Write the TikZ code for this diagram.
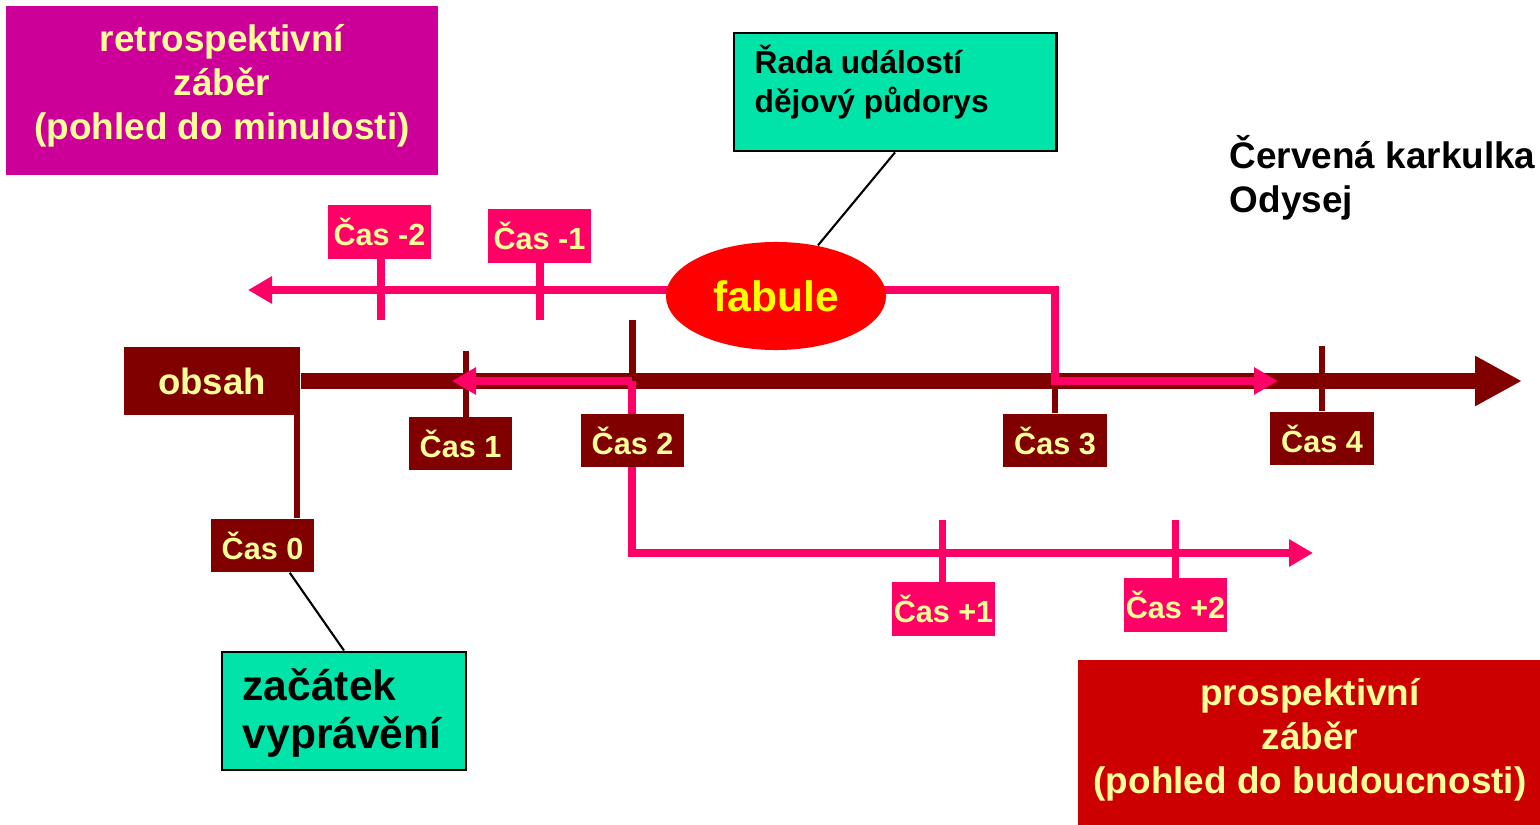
\documentclass[tikz,border=0pt]{standalone}
\usepackage{fontspec}
\setmainfont{Liberation Sans}
\usetikzlibrary{arrows.meta,shapes.geometric,backgrounds}
\definecolor{mag}{RGB}{204,0,153}
\definecolor{pinkc}{RGB}{255,0,102}
\definecolor{dred}{RGB}{128,0,0}
\definecolor{ylw}{RGB}{255,255,153}
\definecolor{brightylw}{RGB}{255,255,0}
\definecolor{grn}{RGB}{0,228,170}
\definecolor{redbox}{RGB}{204,0,0}
\definecolor{fabred}{RGB}{255,0,0}
\begin{document}
\begin{tikzpicture}[x=0.01cm,y=-0.01cm,
  casbox/.style={rectangle, inner sep=0pt, minimum width=1.03cm, minimum height=0.53cm, text=ylw, font=\fontsize{8.7}{10}\bfseries\selectfont},
  casd/.style={casbox, fill=dred},
  casp/.style={casbox, fill=pinkc},
  pinkline/.style={draw=pinkc, line width=2.2pt},
  pinktick/.style={draw=pinkc, line width=2pt},
  darktick/.style={draw=dred, line width=1.8pt},
  mainline/.style={draw=dred, line width=4.5pt, -{Triangle[length=4.7mm,width=4.7mm]}},
  pinkarrow/.style={-{Triangle[length=2.4mm,width=2.6mm]}},
  callout/.style={draw=black, line width=0.6pt},
  bigtitle/.style={text=ylw, align=center, font=\fontsize{10.5}{12.5}\bfseries\selectfont, inner sep=0pt},
  greenbox/.style={fill=grn, draw=black, line width=0.8pt, inner sep=0pt}
]
\useasboundingbox (0,0) rectangle (1540,825);

% title boxes
\node[fill=mag, minimum width=4.32cm, minimum height=1.69cm, inner sep=0pt] (retro) at (222,90.5) {};
\node[bigtitle] (retrotext) at (222,86) {retrospektivní\\záběr\\(pohled do minulosti)};
\node[fill=redbox, minimum width=4.62cm, minimum height=1.65cm, inner sep=0pt] (prosp) at (1309,742.5) {};
\node[bigtitle] (prosptext) at (1310,740) {prospektivní\\záběr\\(pohled do budoucnosti)};

% green boxes
\node[greenbox, minimum width=3.22cm, minimum height=1.18cm] (rada) at (895,92) {};
\node[anchor=west, inner sep=0pt, align=left, font=\fontsize{9}{11.1}\bfseries\selectfont] (radatext) at (754,82) {Řada událostí\\dějový půdorys};
\node[greenbox, minimum width=2.44cm, minimum height=1.18cm] (zac) at (344,711) {};
\node[anchor=west, inner sep=0pt, align=left, font=\fontsize{12.1}{13.7}\bfseries\selectfont] (zactext) at (242,713) {začátek\\vyprávění};

% story names
\node[anchor=west, inner sep=0pt, align=left, font=\fontsize{10.5}{12.5}\bfseries\selectfont] (stories) at (1229,178) {Červená karkulka\\Odysej};

% fabule
\node[ellipse, fill=fabred, minimum width=2.2cm, minimum height=1.08cm, inner sep=0pt, text=brightylw, font=\fontsize{12.1}{14}\bfseries\selectfont] (fabule) at (776,296) {fabule};

% obsah
\node[fill=dred, minimum width=1.76cm, minimum height=0.68cm, inner sep=0pt, text=ylw, font=\fontsize{10.4}{12}\bfseries\selectfont] (obsah) at (212,381) {obsah};

% time boxes
\node[casp] (cm2) at (379.5,232) {Čas -2};
\node[casp] (cm1) at (539.5,236) {Čas -1};
\node[casd] (c0) at (262.5,545.5) {Čas 0};
\node[casd] (c1) at (460.5,443.5) {Čas 1};
\node[casd] (c2) at (632.5,440.5) {Čas 2};
\node[casd] (c3) at (1055,440.5) {Čas 3};
\node[casd] (c4) at (1322,438.5) {Čas 4};
\node[casp] (cp1) at (943.5,609) {Čas +1};
\node[casp] (cp2) at (1175.5,605) {Čas +2};

% coordinates
\coordinate (mainend) at (1522,381);
\coordinate (leftend) at (248,290);
\coordinate (upright) at (1055,381);
\coordinate (rightend) at (1278,381);
\coordinate (j2) at (632,381);
\coordinate (c1tip) at (452,381);
\coordinate (lowend) at (1313,553);
\coordinate (obsahdrop) at (297,405);

\begin{scope}[on background layer]
  % main time axis
  \draw[mainline] (obsah.east) -- (mainend);
  % dark ticks
  \draw[darktick] (obsahdrop) -- (obsahdrop |- c0.north);
  \draw[darktick] (466,351) -- (466,420);
  \draw[darktick] (c2.north) -- (632.5,320);
  \draw[darktick] (c3.north) -- (1055,350);
  \draw[darktick] (c4.north) -- (1322,346);
  % pink ticks
  \draw[pinktick] (381,255) -- (381,320);
  \draw[pinktick] (540,260) -- (540,320);
  \draw[pinktick] (942,520) -- (942,585);
  \draw[pinktick] (1175,520) -- (1175,581);
  % pink story lines
  \draw[pinkline, pinkarrow] (fabule.center |- leftend) -- (leftend);
  \draw[pinkline, pinkarrow] (fabule.center |- leftend) -| (upright) -- (rightend);
  \draw[pinkline, pinkarrow] (j2) -- (c1tip);
  \draw[pinkline, pinkarrow] (j2) |- (lowend);
\end{scope}

% callout lines
\draw[callout] (rada.south) -- (fabule);
\draw[callout] (c0.-45) -- (zac.north);
\end{tikzpicture}
\end{document}
